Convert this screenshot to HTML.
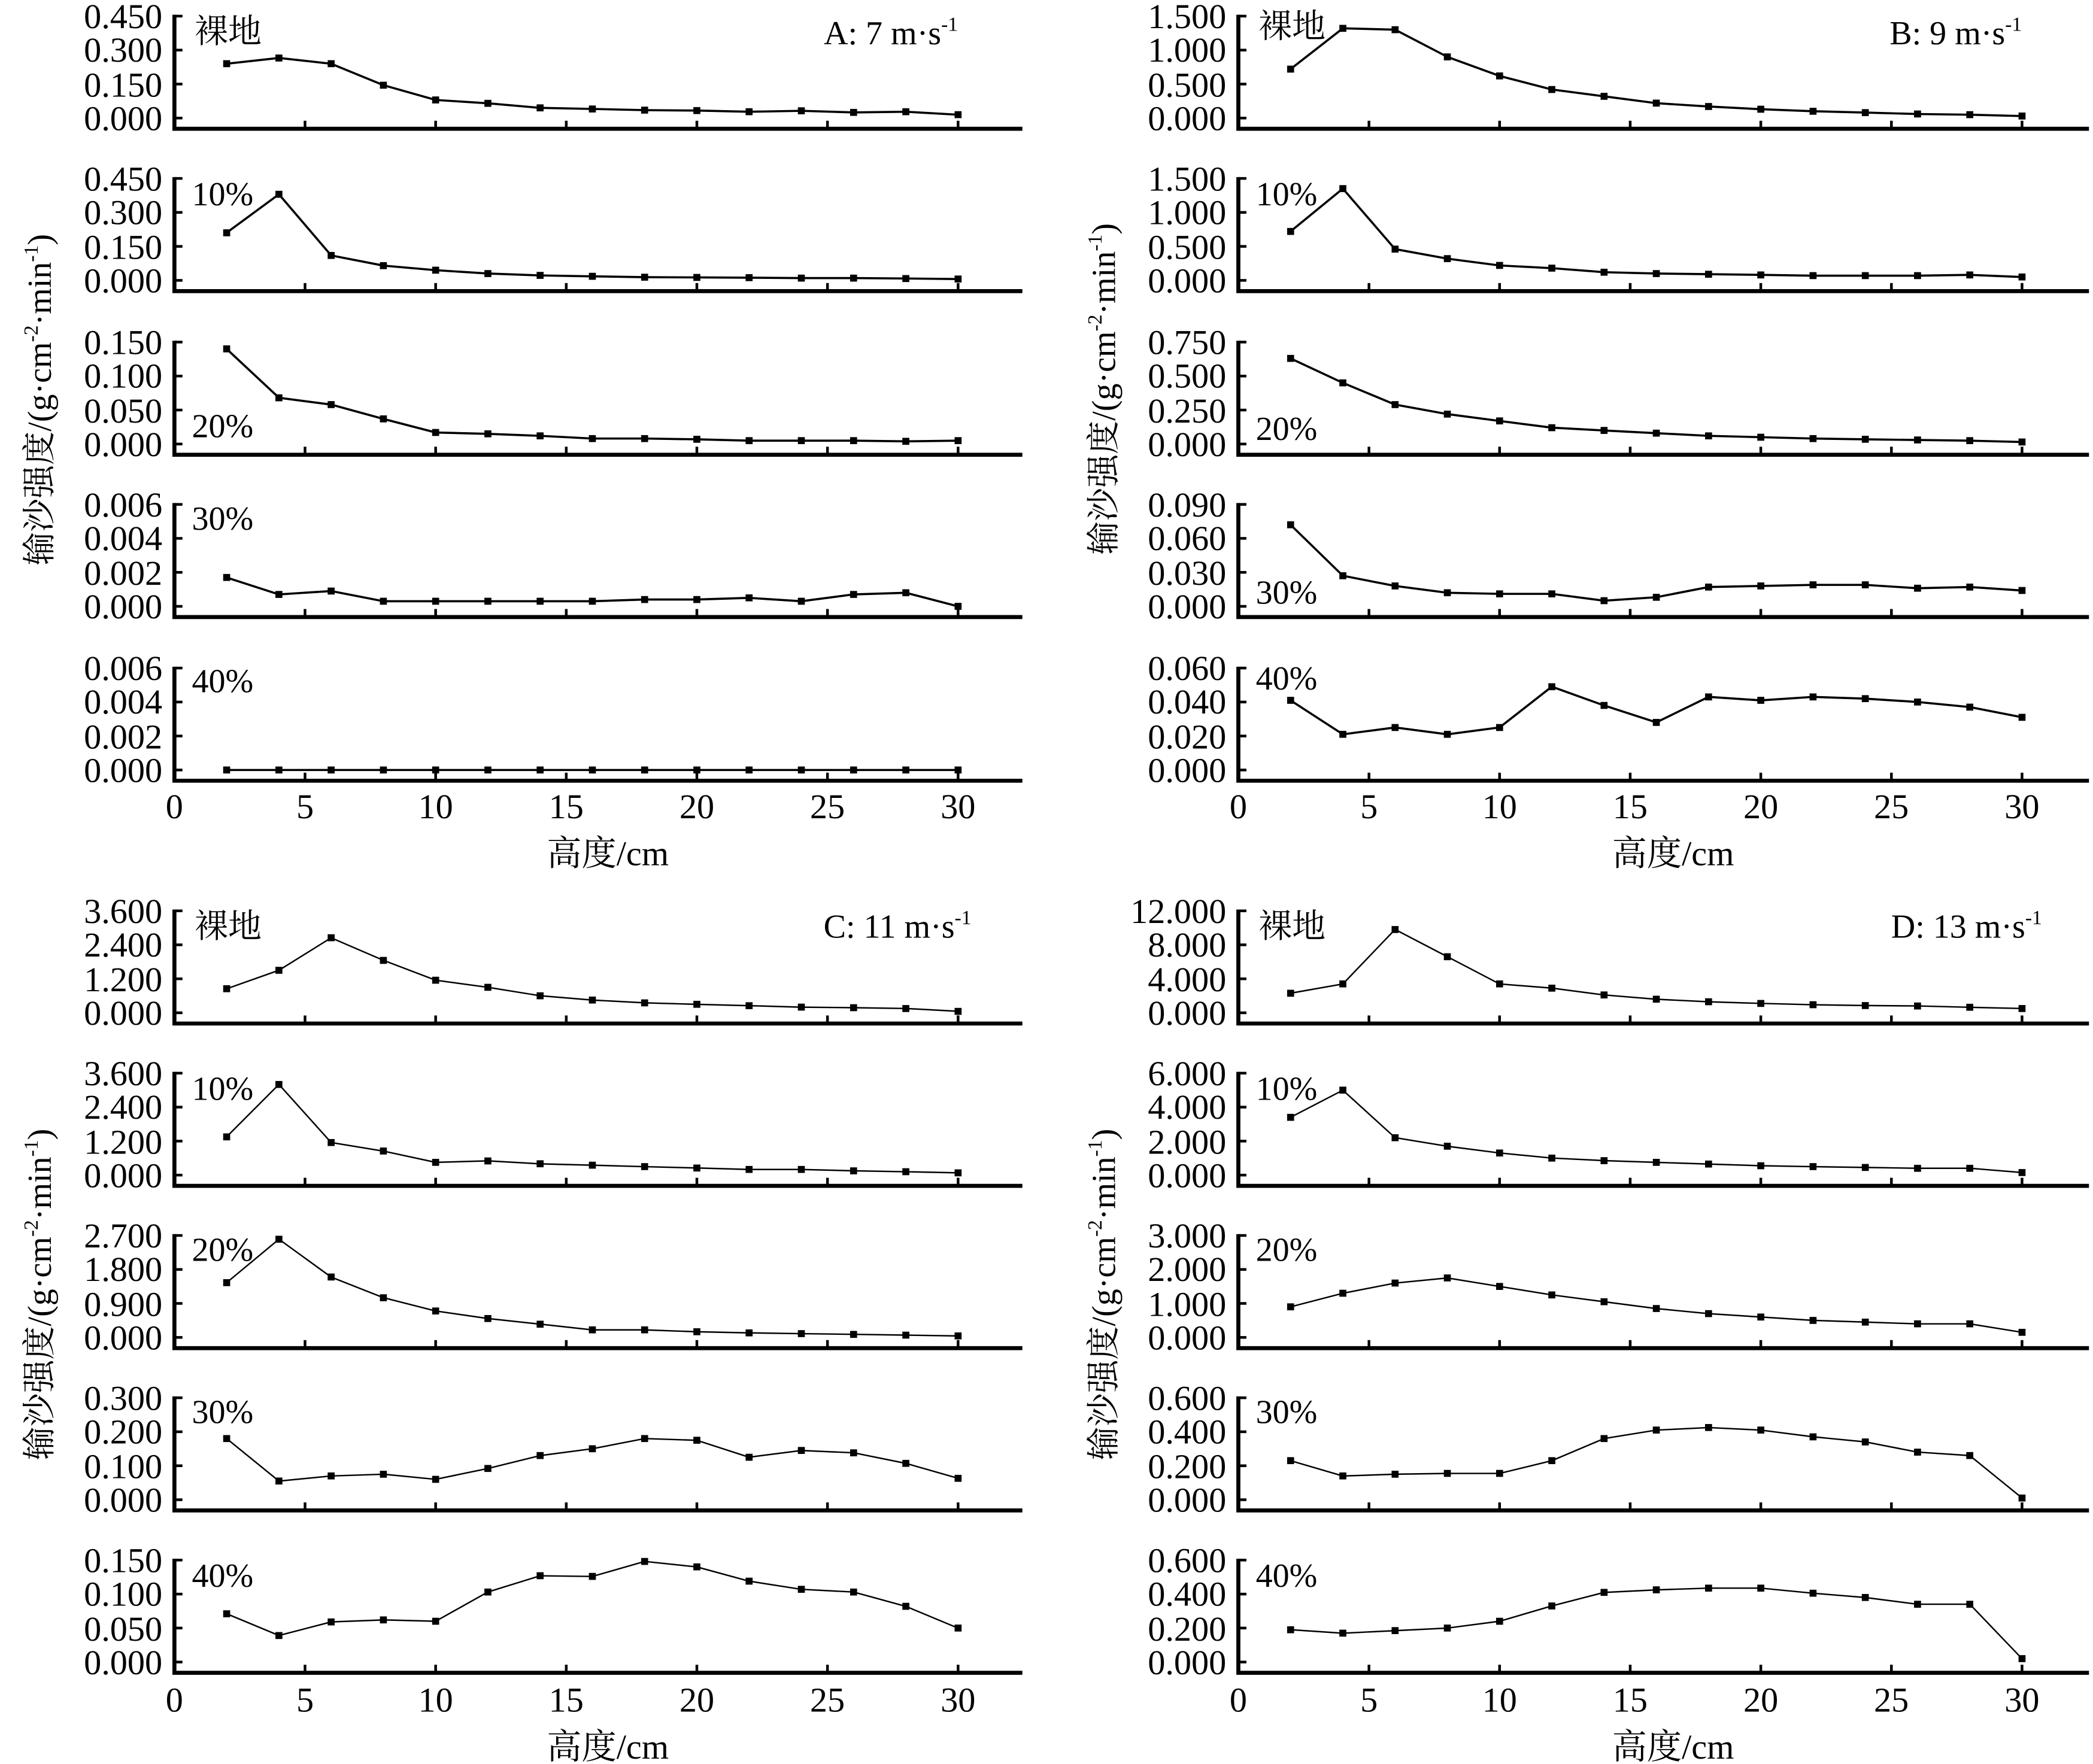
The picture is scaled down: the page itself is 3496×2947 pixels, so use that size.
<!DOCTYPE html>
<html><head><meta charset="utf-8"><style>
html,body{margin:0;padding:0;background:#fff}
svg{display:block}
text{font-family:"Liberation Serif","Noto Serif CJK SC","Noto Sans CJK SC",serif;fill:#000}
.t{font-size:26px;text-anchor:end}
.x{font-size:26px;text-anchor:middle}
.l{font-size:25px}
</style></head><body>
<svg id="s" width="3496" height="2947" viewBox="0 0 1560 1315" xmlns="http://www.w3.org/2000/svg">
<g id="geo"></g>
<!-- Panel A tick labels -->
<g class="t">
<g transform="translate(121,12)"><text y="9">0.450</text><text y="34">0.300</text><text y="60">0.150</text><text y="85">0.000</text></g>
<g transform="translate(121,133)"><text y="9">0.450</text><text y="34">0.300</text><text y="60">0.150</text><text y="85">0.000</text></g>
<g transform="translate(121,255)"><text y="9">0.150</text><text y="34">0.100</text><text y="60">0.050</text><text y="85">0.000</text></g>
<g transform="translate(121,376)"><text y="9">0.006</text><text y="34">0.004</text><text y="60">0.002</text><text y="85">0.000</text></g>
<g transform="translate(121,498)"><text y="9">0.006</text><text y="34">0.004</text><text y="60">0.002</text><text y="85">0.000</text></g>
<!-- B -->
<g transform="translate(914,12)"><text y="9">1.500</text><text y="34">1.000</text><text y="60">0.500</text><text y="85">0.000</text></g>
<g transform="translate(914,133)"><text y="9">1.500</text><text y="34">1.000</text><text y="60">0.500</text><text y="85">0.000</text></g>
<g transform="translate(914,255)"><text y="9">0.750</text><text y="34">0.500</text><text y="60">0.250</text><text y="85">0.000</text></g>
<g transform="translate(914,376)"><text y="9">0.090</text><text y="34">0.060</text><text y="60">0.030</text><text y="85">0.000</text></g>
<g transform="translate(914,498)"><text y="9">0.060</text><text y="34">0.040</text><text y="60">0.020</text><text y="85">0.000</text></g>
<!-- C -->
<g transform="translate(121,679)"><text y="9">3.600</text><text y="34">2.400</text><text y="60">1.200</text><text y="85">0.000</text></g>
<g transform="translate(121,800)"><text y="9">3.600</text><text y="34">2.400</text><text y="60">1.200</text><text y="85">0.000</text></g>
<g transform="translate(121,921)"><text y="9">2.700</text><text y="34">1.800</text><text y="60">0.900</text><text y="85">0.000</text></g>
<g transform="translate(121,1042)"><text y="9">0.300</text><text y="34">0.200</text><text y="60">0.100</text><text y="85">0.000</text></g>
<g transform="translate(121,1163)"><text y="9">0.150</text><text y="34">0.100</text><text y="60">0.050</text><text y="85">0.000</text></g>
<!-- D -->
<g transform="translate(914,679)"><text y="9">12.000</text><text y="34">8.000</text><text y="60">4.000</text><text y="85">0.000</text></g>
<g transform="translate(914,800)"><text y="9">6.000</text><text y="34">4.000</text><text y="60">2.000</text><text y="85">0.000</text></g>
<g transform="translate(914,921)"><text y="9">3.000</text><text y="34">2.000</text><text y="60">1.000</text><text y="85">0.000</text></g>
<g transform="translate(914,1042)"><text y="9">0.600</text><text y="34">0.400</text><text y="60">0.200</text><text y="85">0.000</text></g>
<g transform="translate(914,1163)"><text y="9">0.600</text><text y="34">0.400</text><text y="60">0.200</text><text y="85">0.000</text></g>
</g>
<!-- x tick labels -->
<g class="x">
<g transform="translate(130,610)"><text x="0">0</text><text x="97.4">5</text><text x="194.7">10</text><text x="292">15</text><text x="389.4">20</text><text x="486.7">25</text><text x="584.1">30</text></g>
<g transform="translate(923,610)"><text x="0">0</text><text x="97.4">5</text><text x="194.7">10</text><text x="292">15</text><text x="389.4">20</text><text x="486.7">25</text><text x="584.1">30</text></g>
<g transform="translate(130,1276)"><text x="0">0</text><text x="97.4">5</text><text x="194.7">10</text><text x="292">15</text><text x="389.4">20</text><text x="486.7">25</text><text x="584.1">30</text></g>
<g transform="translate(923,1276)"><text x="0">0</text><text x="97.4">5</text><text x="194.7">10</text><text x="292">15</text><text x="389.4">20</text><text x="486.7">25</text><text x="584.1">30</text></g>
<text x="453" y="645">高度/cm</text><text x="1247" y="645">高度/cm</text>
<text x="453" y="1311">高度/cm</text><text x="1247" y="1311">高度/cm</text>
</g>
<!-- row labels -->
<g class="l">
<text x="145" y="32">裸地</text><text x="143" y="153">10%</text><text x="143" y="326">20%</text><text x="143" y="395">30%</text><text x="143" y="516">40%</text>
<text x="938" y="28">裸地</text><text x="936" y="153">10%</text><text x="936" y="328">20%</text><text x="936" y="450">30%</text><text x="936" y="514">40%</text>
<text x="145" y="699">裸地</text><text x="143" y="820">10%</text><text x="143" y="940">20%</text><text x="143" y="1061">30%</text><text x="143" y="1183">40%</text>
<text x="938" y="699">裸地</text><text x="936" y="820">10%</text><text x="936" y="940">20%</text><text x="936" y="1061">30%</text><text x="936" y="1183">40%</text>
<text x="714" y="33" text-anchor="end">A: 7 m·s<tspan font-size="15" dy="-10">-1</tspan></text>
<text x="1507" y="33" text-anchor="end">B: 9 m·s<tspan font-size="15" dy="-10">-1</tspan></text>
<text x="724" y="699" text-anchor="end">C: 11 m·s<tspan font-size="15" dy="-10">-1</tspan></text>
<text x="1522" y="699" text-anchor="end">D: 13 m·s<tspan font-size="15" dy="-10">-1</tspan></text>
</g>
<!-- y axis titles -->
<g font-size="25" text-anchor="middle">
<text transform="translate(38,298) rotate(-90)">输沙强度/(g·cm<tspan font-size="15" dy="-10">-2</tspan><tspan dy="10">·min</tspan><tspan font-size="15" dy="-10">-1</tspan><tspan dy="10">)</tspan></text>
<text transform="translate(831,290) rotate(-90)">输沙强度/(g·cm<tspan font-size="15" dy="-10">-2</tspan><tspan dy="10">·min</tspan><tspan font-size="15" dy="-10">-1</tspan><tspan dy="10">)</tspan></text>
<text transform="translate(38,965) rotate(-90)">输沙强度/(g·cm<tspan font-size="15" dy="-10">-2</tspan><tspan dy="10">·min</tspan><tspan font-size="15" dy="-10">-1</tspan><tspan dy="10">)</tspan></text>
<text transform="translate(831,965) rotate(-90)">输沙强度/(g·cm<tspan font-size="15" dy="-10">-2</tspan><tspan dy="10">·min</tspan><tspan font-size="15" dy="-10">-1</tspan><tspan dy="10">)</tspan></text>
</g>
</svg>
<script>
var g=document.getElementById('geo'),NS='http://www.w3.org/2000/svg';
function el(t,a){var e=document.createElementNS(NS,t);for(var k in a)e.setAttribute(k,a[k]);g.appendChild(e);return e;}
var U=19.47;
var panels=[
{x0:130,xe:762,tops:[12,133,255,376,498],lw:1.6,max:[.45,.45,.15,.006,.006],d:[
[.24,.265,.24,.145,.08,.065,.045,.04,.035,.033,.028,.032,.025,.028,.015],
[.21,.38,.11,.065,.045,.03,.022,.018,.014,.013,.012,.01,.01,.008,.006],
[.14,.068,.058,.037,.017,.015,.012,.008,.008,.007,.005,.005,.005,.004,.005],
[.0017,.0007,.0009,.0003,.0003,.0003,.0003,.0003,.0004,.0004,.0005,.0003,.0007,.0008,0],
[0,0,0,0,0,0,0,0,0,0,0,0,0,0,0]]},
{x0:923,xe:1557,tops:[12,133,255,376,498],lw:1.6,max:[1.5,1.5,.75,.09,.06],d:[
[.72,1.32,1.3,.9,.62,.42,.32,.22,.17,.13,.1,.08,.06,.05,.03],
[.72,1.35,.46,.32,.22,.18,.12,.1,.09,.08,.07,.07,.07,.08,.05],
[.63,.45,.29,.22,.17,.12,.1,.08,.06,.05,.04,.035,.03,.025,.015],
[.072,.027,.018,.012,.011,.011,.005,.008,.017,.018,.019,.019,.016,.017,.014],
[.041,.021,.025,.021,.025,.049,.038,.028,.043,.041,.043,.042,.04,.037,.031]]},
{x0:130,xe:762,tops:[679,800,921,1042,1163],lw:1.1,max:[3.6,3.6,2.7,.3,.15],d:[
[.85,1.5,2.65,1.85,1.15,.9,.6,.45,.35,.3,.25,.2,.18,.15,.05],
[1.35,3.2,1.15,.85,.45,.5,.4,.35,.3,.25,.2,.2,.15,.12,.08],
[1.45,2.6,1.6,1.05,.7,.5,.35,.2,.2,.15,.12,.1,.08,.06,.04],
[.18,.055,.07,.075,.06,.092,.13,.15,.18,.175,.125,.145,.138,.107,.063],
[.071,.039,.059,.062,.06,.103,.127,.126,.148,.14,.119,.107,.103,.082,.05]]},
{x0:923,xe:1557,tops:[679,800,921,1042,1163],lw:1.1,max:[12,6,3,.6,.6],d:[
[2.3,3.4,9.8,6.6,3.4,2.9,2.1,1.6,1.3,1.1,.95,.85,.8,.65,.5],
[3.4,5,2.2,1.7,1.3,1.0,.85,.75,.65,.55,.5,.45,.4,.4,.15],
[.9,1.3,1.6,1.75,1.5,1.25,1.05,.85,.7,.6,.5,.45,.4,.4,.15],
[.23,.14,.15,.155,.155,.23,.36,.41,.425,.41,.37,.34,.28,.26,.01],
[.19,.17,.185,.2,.24,.33,.41,.425,.435,.435,.405,.38,.34,.34,.02]]}
];
panels.forEach(function(p){
 p.tops.forEach(function(T,r){
  var z=T+76,b=T+84;
  // axes
  el('path',{d:'M'+p.x0+' '+(T-1)+'V'+b+'H'+p.xe,fill:'none',stroke:'#000','stroke-width':3});
  for(var i=0;i<4;i++){var y=T+i*76/3;el('line',{x1:p.x0,x2:p.x0+6,y1:y,y2:y,stroke:'#000','stroke-width':2});}
  for(var k=1;k<=6;k++){var x=p.x0+k*5*U;el('line',{x1:x,x2:x,y1:b,y2:b-6,stroke:'#000','stroke-width':2});}
  var pts=p.d[r].map(function(v,i){return [p.x0+(2+2*i)*U, z-v/p.max[r]*76];});
  el('polyline',{points:pts.map(function(q){return q[0].toFixed(1)+','+q[1].toFixed(1)}).join(' '),fill:'none',stroke:'#000','stroke-width':p.lw});
  pts.forEach(function(q){el('rect',{x:q[0]-2.6,y:q[1]-2.6,width:5.2,height:5.2,fill:'#000'});});
 });
});
</script>
</body></html>
